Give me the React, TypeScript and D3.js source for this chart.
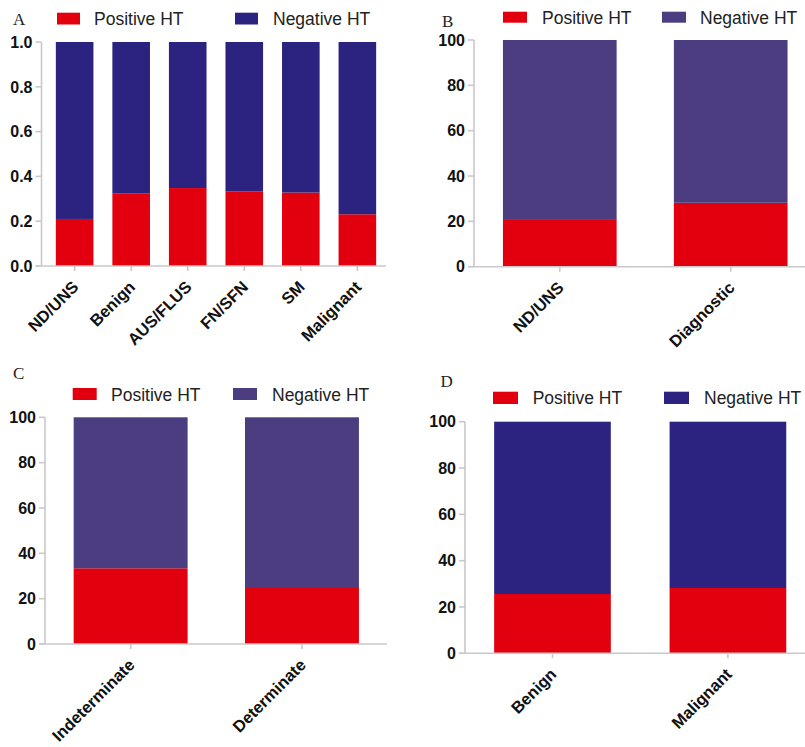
import React from "react";
import * as d3 from "d3";

// ---- Data ----
const catsA = ["ND/UNS", "Benign", "AUS/FLUS", "FN/SFN", "SM", "Malignant"];
const posA = [0.21, 0.323, 0.348, 0.332, 0.328, 0.231];

const catsB = ["ND/UNS", "Diagnostic"];
const posB = [21.0, 28.2];

const catsC = ["Indeterminate", "Determinate"];
const posC = [33.4, 24.7];

const catsD = ["Benign", "Malignant"];
const posD = [25.6, 28.2];

const ticksFraction = [0, 0.2, 0.4, 0.6, 0.8, 1.0];
const ticksPercent = [0, 20, 40, 60, 80, 100];

const legendLabels = ["Positive HT", "Negative HT"];
const panelLetters = ["A", "B", "C", "D"];

const RED = "#e2000f";
const NAVY = "#2c2381";
const PURPLE = "#4b3d80";
const AXIS = "#c9c9c9";

type PanelCfg = {
  letter: string;
  cats: string[];
  pos: number[];
  total: number;
  ticks: number[];
  fmt: (v: number) => string;
  negColor: string;
  axisX: number;
  yTop: number;
  yBottom: number;
  bandStart: number;
  bandEnd: number;
  xAxisEnd: number;
  letterX: number;
  letterY: number;
  leg: { r1x: number; r2x: number; ry: number; rw: number; rh: number; t1x: number; t2x: number; ty: number };
};

const panels: PanelCfg[] = [
  {
    letter: panelLetters[0], cats: catsA, pos: posA, total: 1, ticks: ticksFraction,
    fmt: d3.format(".1f"), negColor: NAVY,
    axisX: 41.5, yTop: 42, yBottom: 266, bandStart: 46.5, bandEnd: 385.5, xAxisEnd: 386,
    letterX: 13, letterY: 25,
    leg: { r1x: 57, r2x: 235, ry: 12.7, rw: 23, rh: 11.8, t1x: 94, t2x: 273, ty: 25 },
  },
  {
    letter: panelLetters[1], cats: catsB, pos: posB, total: 100, ticks: ticksPercent,
    fmt: d3.format("d"), negColor: PURPLE,
    axisX: 474, yTop: 40, yBottom: 266.7, bandStart: 474.75, bandEnd: 815.75, xAxisEnd: 805,
    letterX: 442, letterY: 27,
    leg: { r1x: 503, r2x: 662, ry: 11.7, rw: 24, rh: 11, t1x: 542, t2x: 700, ty: 23.5 },
  },
  {
    letter: panelLetters[2], cats: catsC, pos: posC, total: 100, ticks: ticksPercent,
    fmt: d3.format("d"), negColor: PURPLE,
    axisX: 45, yTop: 417.3, yBottom: 644, bandStart: 45.4, bandEnd: 387.2, xAxisEnd: 387,
    letterX: 13, letterY: 379,
    leg: { r1x: 72.7, r2x: 233, ry: 388, rw: 24, rh: 12, t1x: 111, t2x: 272, ty: 400.5 },
  },
  {
    letter: panelLetters[3], cats: catsD, pos: posD, total: 100, ticks: ticksPercent,
    fmt: d3.format("d"), negColor: NAVY,
    axisX: 465, yTop: 421.7, yBottom: 653.3, bandStart: 465.2, bandEnd: 815.2, xAxisEnd: 805,
    letterX: 440.5, letterY: 387,
    leg: { r1x: 493, r2x: 664, ry: 391.7, rw: 25, rh: 12.3, t1x: 532.7, t2x: 704, ty: 404.3 },
  },
];

function Panel({ p }: { p: PanelCfg }) {
  const x = d3.scaleBand<string>().domain(p.cats).range([p.bandStart, p.bandEnd]).paddingInner(0.335).paddingOuter(0.165);
  const y = d3.scaleLinear().domain([0, p.total]).range([p.yBottom, p.yTop]);
  const stackData = p.cats.map((c, i) => ({ cat: c, pos: p.pos[i], neg: p.total - p.pos[i] }));
  const series = d3.stack<any>().keys(["pos", "neg"])(stackData);
  const colors = [RED, p.negColor];
  const sans = "'Liberation Sans', Arial, Helvetica, sans-serif";
  return (
    <g>
      <text x={p.letterX} y={p.letterY} fontFamily="'Liberation Serif', 'Times New Roman', serif" fontSize={17} fill="#222">
        {p.letter}
      </text>
      <rect x={p.leg.r1x} y={p.leg.ry} width={p.leg.rw} height={p.leg.rh} fill={RED} />
      <text x={p.leg.t1x} y={p.leg.ty} fontFamily={sans} fontSize={17.5} fill="#222">{legendLabels[0]}</text>
      <rect x={p.leg.r2x} y={p.leg.ry} width={p.leg.rw} height={p.leg.rh} fill={p.negColor} />
      <text x={p.leg.t2x} y={p.leg.ty} fontFamily={sans} fontSize={17.5} fill="#222">{legendLabels[1]}</text>
      {series.map((s, si) =>
        s.map((d, i) => (
          <rect
            key={`${si}-${i}`}
            x={x(p.cats[i])}
            y={y(d[1])}
            width={x.bandwidth()}
            height={y(d[0]) - y(d[1])}
            fill={colors[si]}
          />
        ))
      )}
      <line x1={p.axisX} x2={p.axisX} y1={y(p.total)} y2={y(0)} stroke={AXIS} strokeWidth={1.6} />
      {p.ticks.map((t) => (
        <g key={t}>
          <line x1={p.axisX - 6} x2={p.axisX} y1={y(t)} y2={y(t)} stroke={AXIS} strokeWidth={1.6} />
          <text
            x={p.axisX - 9}
            y={y(t)}
            dy="0.36em"
            textAnchor="end"
            fontFamily={sans}
            fontWeight="bold"
            fontSize={16}
            fill="#111"
          >
            {p.fmt(t)}
          </text>
        </g>
      ))}
      <line x1={p.axisX - 6} x2={p.xAxisEnd} y1={y(0)} y2={y(0)} stroke={AXIS} strokeWidth={1.6} />
      {p.cats.map((c) => {
        const cx = (x(c) as number) + x.bandwidth() / 2;
        return (
          <g key={c}>
            <line x1={cx} x2={cx} y1={y(0)} y2={y(0) + 5} stroke={AXIS} strokeWidth={1.6} />
            <text
              transform={`translate(${cx + 5},${y(0) + 22}) rotate(-45)`}
              textAnchor="end"
              fontFamily={sans}
              fontWeight="bold"
              fontSize={16.5}
              fill="#111"
            >
              {c}
            </text>
          </g>
        );
      })}
    </g>
  );
}

export default function App() {
  return (
    <svg
      width={805}
      height={747}
      viewBox="0 0 805 747"
      style={{ position: "absolute", left: 0, top: 0, background: "#fff" }}
    >
      <rect x={0} y={0} width={805} height={747} fill="#fff" />
      {panels.map((p) => (
        <Panel key={p.letter} p={p} />
      ))}
    </svg>
  );
}
